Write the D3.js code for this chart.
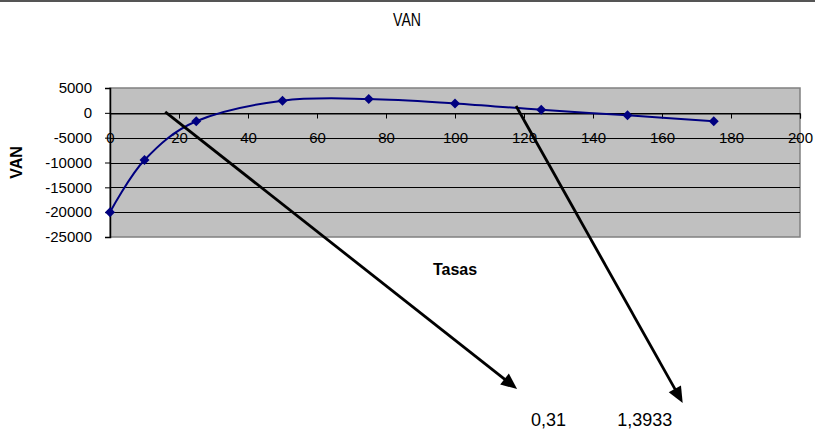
<!DOCTYPE html>
<html><head><meta charset="utf-8">
<script src="https://cdn.jsdelivr.net/npm/d3@7"></script>
<style>body{margin:0;background:#fff}svg{display:block;font-family:"Liberation Sans",Arial,sans-serif}</style>
</head><body>
<script>
const tasas = [0, 10, 25, 50, 75, 100, 125, 150, 175];
const van = [-20000, -9500, -1700, 2450, 2800, 1900, 600, -500, -1700];
const xTicks = [0, 20, 40, 60, 80, 100, 120, 140, 160, 180, 200];
const yTicks = [5000, 0, -5000, -10000, -15000, -20000, -25000];
const title = "VAN";
const xTitle = "Tasas";
const yTitle = "VAN";
// annotation arrows in data units: [x0, y0, x1, y1]
const arrows = [[16, 200, 118, -55600], [117.7, 1370, 166, -58400]];
const arrowLabels = ["0,31", "1,3933"];
const arrowLabelX = [122, 147];

const W = 815, H = 429;
const svg = d3.select("body").append("svg").attr("width", W).attr("height", H);
const x = d3.scaleLinear().domain([0, 200]).range([110, 800]);
const y = d3.scaleLinear().domain([-25000, 5000]).range([237, 88]);

svg.append("line").attr("x1", 0).attr("x2", W).attr("y1", 1).attr("y2", 1)
  .attr("stroke", "#555").attr("stroke-width", 2);

svg.append("rect").attr("x", x(0)).attr("y", y(5000)).attr("width", x(200) - x(0)).attr("height", y(-25000) - y(5000))
  .attr("fill", "#c0c0c0").attr("stroke", "#808080").attr("stroke-width", 1.5);

svg.append("g").selectAll("line").data(yTicks.filter(d => d !== 5000 && d !== -25000)).join("line")
  .attr("x1", x(0)).attr("x2", x(200)).attr("y1", d => Math.round(y(d)) + 0.5).attr("y2", d => Math.round(y(d)) + 0.5)
  .attr("stroke", "#000").attr("stroke-width", 1);

// y axis
const ya = svg.append("g").attr("transform", `translate(${x(0)},0)`)
  .call(d3.axisLeft(y).tickValues(yTicks).tickSize(5).tickPadding(13).tickFormat(d => String(d)));
ya.select(".domain").attr("stroke", "#000").attr("stroke-width", 1.5);
ya.selectAll("text").attr("font-size", 15).attr("fill", "#000").attr("font-family", "Liberation Sans, Arial");
ya.selectAll(".tick line").attr("stroke", "#000");

// x axis at y=0
const xa = svg.append("g").attr("transform", `translate(0,${Math.round(y(0)) + 0.5})`)
  .call(d3.axisBottom(x).tickValues(xTicks).tickSize(5).tickPadding(14).tickFormat(d => String(d)));
xa.select(".domain").attr("stroke", "#000").attr("stroke-width", 1.2);
xa.selectAll("text").attr("font-size", 15).attr("fill", "#000").attr("font-family", "Liberation Sans, Arial");
xa.selectAll(".tick line").attr("stroke", "#000");

// series
const pts = tasas.map((t, i) => [t, van[i]]);
svg.append("path").datum(pts)
  .attr("d", d3.line().x(d => x(d[0])).y(d => y(d[1])).curve(d3.curveCardinal.tension(0)))
  .attr("fill", "none").attr("stroke", "#000080").attr("stroke-width", 2);
svg.append("g").selectAll("path").data(pts).join("path")
  .attr("transform", d => `translate(${x(d[0])},${y(d[1])})`)
  .attr("d", "M0,-5L5,0L0,5L-5,0Z")
  .attr("fill", "#000080");

// titles
svg.append("text").attr("transform", `translate(407,26) scale(0.74,1)`).attr("text-anchor", "middle")
  .attr("font-size", 19).text(title);
svg.append("text").attr("x", (x(0) + x(200)) / 2).attr("y", 275).attr("text-anchor", "middle")
  .attr("font-size", 16).attr("font-weight", "bold").text(xTitle);
svg.append("text").attr("transform", `translate(22,${(y(5000) + y(-25000)) / 2}) rotate(-90)`).attr("text-anchor", "middle")
  .attr("font-size", 16).attr("font-weight", "bold").text(yTitle);

// arrows
const ag = svg.append("g");
arrows.forEach(a => {
  const x0 = x(a[0]), y0 = y(a[1]), x1 = x(a[2]), y1 = y(a[3]);
  const dx = x1 - x0, dy = y1 - y0, L = Math.hypot(dx, dy), ux = dx / L, uy = dy / L;
  const hl = 16, hw = 7;
  const bx = x1 - ux * hl, by = y1 - uy * hl;
  ag.append("line").attr("x1", x0).attr("y1", y0).attr("x2", bx + ux * 2).attr("y2", by + uy * 2)
    .attr("stroke", "#000").attr("stroke-width", 2.8);
  ag.append("path").attr("d", `M${x1},${y1}L${bx - uy * hw},${by + ux * hw}L${bx + uy * hw},${by - ux * hw}Z`).attr("fill", "#000");
});
svg.append("g").selectAll("text").data(arrowLabels).join("text")
  .attr("x", (d, i) => x(arrowLabelX[i])).attr("y", 426).attr("font-size", 18).text(d => d);
</script>
</body></html>
